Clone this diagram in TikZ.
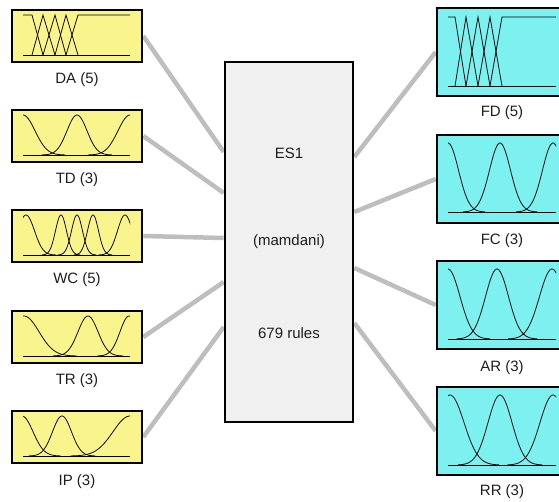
\documentclass[tikz,border=0pt]{standalone}
\usepackage{fontspec}
\setmainfont{Liberation Sans}
\usetikzlibrary{backgrounds}
\definecolor{inyellow}{RGB}{250,244,140}
\definecolor{outcyan}{RGB}{125,240,240}
\definecolor{esgray}{RGB}{240,240,240}
\definecolor{conngray}{RGB}{190,190,190}
\definecolor{txtgray}{RGB}{30,30,30}
\newcommand\mfgauss[4]{%
  \pgfmathsetmacro\mfa{#1-3.5*#2}\pgfmathsetmacro\mfb{#1+3.5*#2}%
  \draw[mf] plot[domain=\mfa:\mfb, samples=60, smooth] (\x,{#4-(#4-#3)*exp(-(\x-#1)*(\x-#1)/(2*#2*#2))});}
\begin{document}
\begin{tikzpicture}[x=1pt,y=-1pt,
  inbox/.style={draw=black, line width=2.6pt, fill=inyellow, minimum width=130pt, minimum height=52pt, inner sep=0pt},
  outbox/.style={draw=black, line width=2.6pt, fill=outcyan, minimum width=130pt, minimum height=88pt, inner sep=0pt},
  esbox/.style={draw=black, line width=2.6pt, fill=esgray, minimum width=128pt, minimum height=360pt, inner sep=0pt},
  conn/.style={draw=conngray, line width=4.5pt},
  lbl/.style={font=\fontsize{15}{18}\selectfont, text=txtgray, inner sep=0pt},
  mf/.style={line width=0.75pt, black}]
\useasboundingbox (0,0) rectangle (559,502);
\clip (0,0) rectangle (559,502);
% boxes
\node[inbox] (da) at (77,36) {};
\node[inbox] (td) at (77,136) {};
\node[inbox] (wc) at (77,236) {};
\node[inbox] (tr) at (77,337) {};
\node[inbox] (ip) at (77,437) {};
\node[outbox] (fd) at (502,52) {};
\node[outbox] (fc) at (502,179) {};
\node[outbox] (ar) at (502,305) {};
\node[outbox] (rr) at (502,431) {};
\node[esbox] (es) at (289,242) {};
% labels
\node[lbl] (dal) at (77,80) {DA (5)};
\node[lbl] (tdl) at (77,180) {TD (3)};
\node[lbl] (wcl) at (77,280) {WC (5)};
\node[lbl] (trl) at (77,381) {TR (3)};
\node[lbl] (ipl) at (77,482) {IP (3)};
\node[lbl] (fdl) at (502,113) {FD (5)};
\node[lbl] (fcl) at (502,241) {FC (3)};
\node[lbl] (arl) at (502,368) {AR (3)};
\node[lbl] (rrl) at (502,492) {RR (3)};
\node[lbl] (est) at (289,153) {ES1};
\node[lbl] (esm) at (289,242) {(mamdani)};
\node[lbl] (esr) at (289,333) {679 rules};
% ports on the rule box
\coordinate (pl1) at (es.west |- 0,152);
\coordinate (pl2) at (es.west |- 0,193);
\coordinate (pl3) at (es.west |- 0,238);
\coordinate (pl4) at (es.west |- 0,282);
\coordinate (pl5) at (es.west |- 0,327);
\coordinate (pr1) at (es.east |- 0,157);
\coordinate (pr2) at (es.east |- 0,212);
\coordinate (pr3) at (es.east |- 0,268);
\coordinate (pr4) at (es.east |- 0,323);
\begin{scope}[on background layer]
  \draw[conn] (da.east) -- (pl1);
  \draw[conn] (td.east) -- (pl2);
  \draw[conn] (wc.east) -- (pl3);
  \draw[conn] (tr.east) -- (pl4);
  \draw[conn] (ip.east) -- (pl5);
  \draw[conn] (pr1) -- (fd.west);
  \draw[conn] (pr2) -- (fc.west);
  \draw[conn] (pr3) -- (ar.west);
  \draw[conn] (pr4) -- (rr.west);
\end{scope}
% DA (5): triangular
\draw[mf] (23,55) -- (130,55);
\draw[mf] (23,15) -- (32,15) -- (43,55);
\draw[mf] (32,55) -- (43,15) -- (55,55);
\draw[mf] (43,55) -- (55,15) -- (66,55);
\draw[mf] (55,55) -- (66,15) -- (78,55);
\draw[mf] (66,55) -- (78,15) -- (130,15);
% TD (3)
\begin{scope}
  \clip (23,110) rectangle (130,160);
  \mfgauss{23}{12}{115}{155}\mfgauss{77}{10}{115}{155}\mfgauss{130}{12}{115}{155}
\end{scope}
\draw[mf] (23,155) -- (130,155);
% WC (5)
\begin{scope}
  \clip (23,210) rectangle (130,260);
  \mfgauss{26}{8.5}{215}{255}\mfgauss{61}{5.5}{215}{255}\mfgauss{77}{5.5}{215}{255}\mfgauss{93}{5.5}{215}{255}\mfgauss{125}{7.5}{215}{255}
\end{scope}
\draw[mf] (23,255) -- (130,255);
% TR (3)
\begin{scope}
  \clip (23,311) rectangle (130,361);
  \mfgauss{24}{15}{316}{356}\mfgauss{88}{10}{316}{356}\mfgauss{129}{9}{316}{356}
\end{scope}
\draw[mf] (23,356) -- (130,356);
% IP (3)
\begin{scope}
  \clip (23,411) rectangle (130,461);
  \mfgauss{22}{11}{416}{456}\mfgauss{62}{9.5}{416}{456}\mfgauss{130}{17}{416}{456}
\end{scope}
\draw[mf] (23,456) -- (130,456);
% FD (5): triangular
\draw[mf] (448,86) -- (556,86);
\draw[mf] (448,17) -- (455,17) -- (466,86);
\draw[mf] (455,86) -- (466,17) -- (478,86);
\draw[mf] (466,86) -- (478,17) -- (490,86);
\draw[mf] (478,86) -- (490,17) -- (502,86);
\draw[mf] (490,86) -- (502,17) -- (556,17);
% FC (3)
\begin{scope}
  \clip (448,138) rectangle (556,216);
  \mfgauss{448}{10.5}{143}{212}\mfgauss{500}{10.5}{143}{212}\mfgauss{553}{10.5}{143}{212}
\end{scope}
\draw[mf] (448,212) -- (556,212);
% AR (3)
\begin{scope}
  \clip (448,264) rectangle (556,343);
  \mfgauss{448}{12}{269}{339}\mfgauss{497}{11.5}{269}{339}\mfgauss{552}{12.5}{269}{339}
\end{scope}
\draw[mf] (448,339) -- (556,339);
% RR (3)
\begin{scope}
  \clip (448,390) rectangle (556,469);
  \mfgauss{450}{14}{395}{465}\mfgauss{500}{12}{395}{465}\mfgauss{553}{13}{395}{465}
\end{scope}
\draw[mf] (448,465) -- (556,465);
\end{tikzpicture}
\end{document}
